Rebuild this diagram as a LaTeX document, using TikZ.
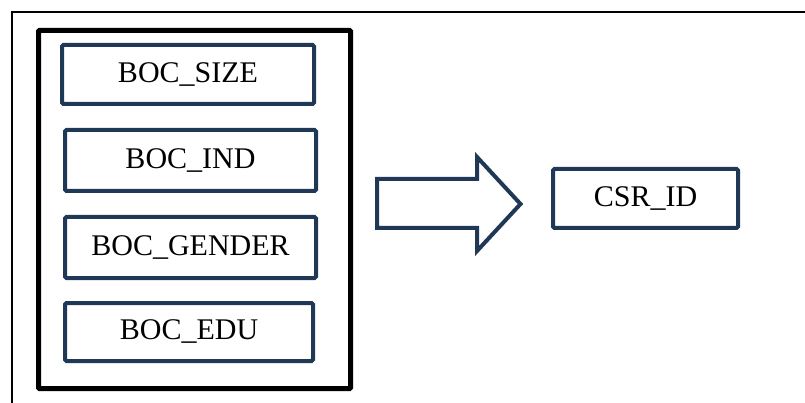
\documentclass[tikz,border=0pt]{standalone}
\usepackage{fontspec}
\setmainfont{Liberation Serif}
\definecolor{navy}{HTML}{1F3856}
\begin{document}
\begin{tikzpicture}[x=1pt,y=-1pt,
  varbox/.style={draw=navy,line width=4pt,rounded corners=1.5pt,minimum height=60pt,inner sep=0pt,font=\fontsize{30}{35}\selectfont},
  frameline/.style={line width=2.5pt,black},
  bigarrow/.style={draw=navy,line width=4pt,line join=miter,fill=white}]
\useasboundingbox (0,0) rectangle (805,403);
\draw[frameline] (12,403) -- (12,12) -- (805,12);
\draw[line width=5pt,rounded corners=1pt] (38.5,30.5) rectangle (350.5,388.5);
\node[varbox,minimum width=252pt,minimum height=59pt] (size) at (188,74.5) {BOC\_SIZE};
\node[varbox,minimum width=251pt,minimum height=61pt] (ind) at (190.5,160.5) {BOC\_IND};
\node[varbox,minimum width=251pt,minimum height=61pt] (gender) at (190.5,247.5) {BOC\_GENDER};
\node[varbox,minimum width=248pt,minimum height=58pt] (edu) at (189,332) {BOC\_EDU};
\node[varbox,minimum width=185pt,minimum height=59pt] (csr) at (645.5,198.5) {CSR\_ID};
\draw[bigarrow] (377,179) -- (477,179) -- (477,157) -- (520.5,204) -- (477,251) -- (477,228) -- (377,228) -- cycle;
\end{tikzpicture}
\end{document}
